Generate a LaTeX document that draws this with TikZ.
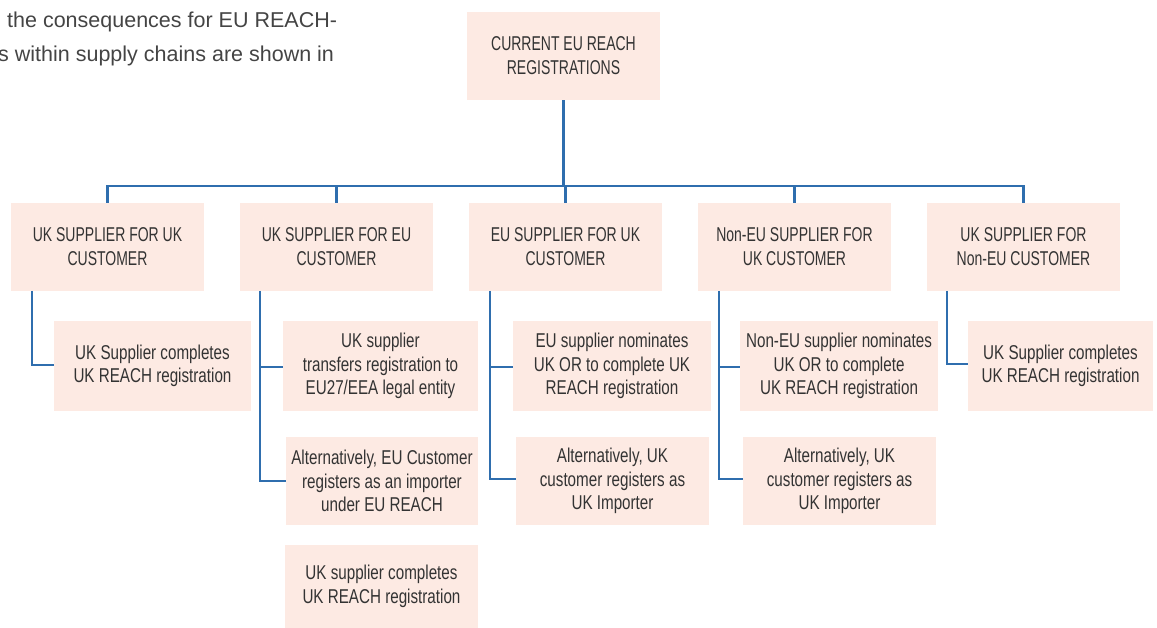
\documentclass[tikz,border=0pt]{standalone}
\usepackage{fontspec}
\setmainfont{Liberation Sans}
\newfontfamily\condfont[FakeStretch=0.7]{Liberation Sans}
\newfontfamily\subfont[FakeStretch=0.76]{Liberation Sans}
\newfontfamily\bodyfont{Liberation Sans}
\definecolor{boxfill}{HTML}{FDEAE3}
\definecolor{linkblue}{HTML}{2F6EAE}
\definecolor{txt}{HTML}{333333}
\definecolor{introtxt}{HTML}{444444}
\begin{document}
\begin{tikzpicture}[x=1pt,y=-1pt,
  box/.style={rectangle, fill=boxfill, draw=none, text=txt, align=center,
    inner sep=0pt},
  headbox/.style={box, minimum width=193pt, minimum height=88pt,
    font=\condfont\fontsize{20}{24}\selectfont},
  subbox/.style={box, minimum height=90pt,
    font=\subfont\fontsize{20}{23.5}\selectfont},
  link/.style={draw=linkblue, line width=2.8pt},
  intro/.style={anchor=base west, inner sep=0pt, text=introtxt, font=\bodyfont\fontsize{21.5}{25}\selectfont}
]
\useasboundingbox (0,0) rectangle (1157,628);

% intro text (cropped at the left edge)
\node[intro] (intro1) at (7,28) {the consequences for EU REACH-};
\node[intro] (intro2) at (-2,62) {s within supply chains are shown in};

% top node
\node[headbox] (top) at (563.5,56) {CURRENT EU REACH\\REGISTRATIONS};

% level 1
\node[headbox] (b1) at (107.5,247) {UK SUPPLIER FOR UK\\CUSTOMER};
\node[headbox] (b2) at (336.5,247) {UK SUPPLIER FOR EU\\CUSTOMER};
\node[headbox] (b3) at (565.5,247) {EU SUPPLIER FOR UK\\CUSTOMER};
\node[headbox] (b4) at (794.5,247) {Non-EU SUPPLIER FOR\\UK CUSTOMER};
\node[headbox] (b5) at (1023.5,247) {UK SUPPLIER FOR\\Non-EU CUSTOMER};

% level 2
\node[subbox, minimum width=197pt] (c1) at (152.5,366) {UK Supplier completes\\UK REACH registration};
\node[subbox, minimum width=195pt] (c2a) at (380.5,366) {UK supplier\\transfers registration to\\EU27/EEA legal entity};
\node[subbox, minimum width=192pt, minimum height=88pt] (c2b) at (382,481) {Alternatively, EU Customer\\registers as an importer\\under EU REACH};
\node[subbox, minimum width=193pt, minimum height=83pt] (c2c) at (381.5,586.5) {UK supplier completes\\UK REACH registration};
\node[subbox, minimum width=198pt] (c3a) at (612,366) {EU supplier nominates\\UK OR to complete UK\\REACH registration};
\node[subbox, minimum width=193pt, minimum height=88pt] (c3b) at (612.5,481) {Alternatively, UK\\customer registers as\\UK Importer};
\node[subbox, minimum width=198pt] (c4a) at (839,366) {Non-EU supplier nominates\\UK OR to complete\\UK REACH registration};
\node[subbox, minimum width=193pt, minimum height=88pt] (c4b) at (839.5,481) {Alternatively, UK\\customer registers as\\UK Importer};
\node[subbox, minimum width=185pt] (c5) at (1060.5,366) {UK Supplier completes\\UK REACH registration};

% bus
\coordinate (bus) at (565,186);
\draw[link] (top.south) -- (top.south |- bus);
\draw[link] (b1.north) -- (b1.north |- bus) -- (b5.north |- bus) -- (b5.north);
\draw[link] (b2.north |- bus) -- (b2.north);
\draw[link] (b3.north |- bus) -- (b3.north);
\draw[link] (b4.north |- bus) -- (b4.north);

% level-2 connectors
\draw[link] (32,291) -- (32,365) -- (c1.west |- 0,365);
\draw[link] (260,291) -- (260,481) -- (c2b.west);
\draw[link] (260,367) -- (c2a.west |- 0,367);
\draw[link] (490,291) -- (490,479) -- (c3b.west |- 0,479);
\draw[link] (490,367) -- (c3a.west |- 0,367);
\draw[link] (719,291) -- (719,479) -- (c4b.west |- 0,479);
\draw[link] (719,367) -- (c4a.west |- 0,367);
\draw[link] (947,291) -- (947,364) -- (c5.west |- 0,364);
\end{tikzpicture}
\end{document}
